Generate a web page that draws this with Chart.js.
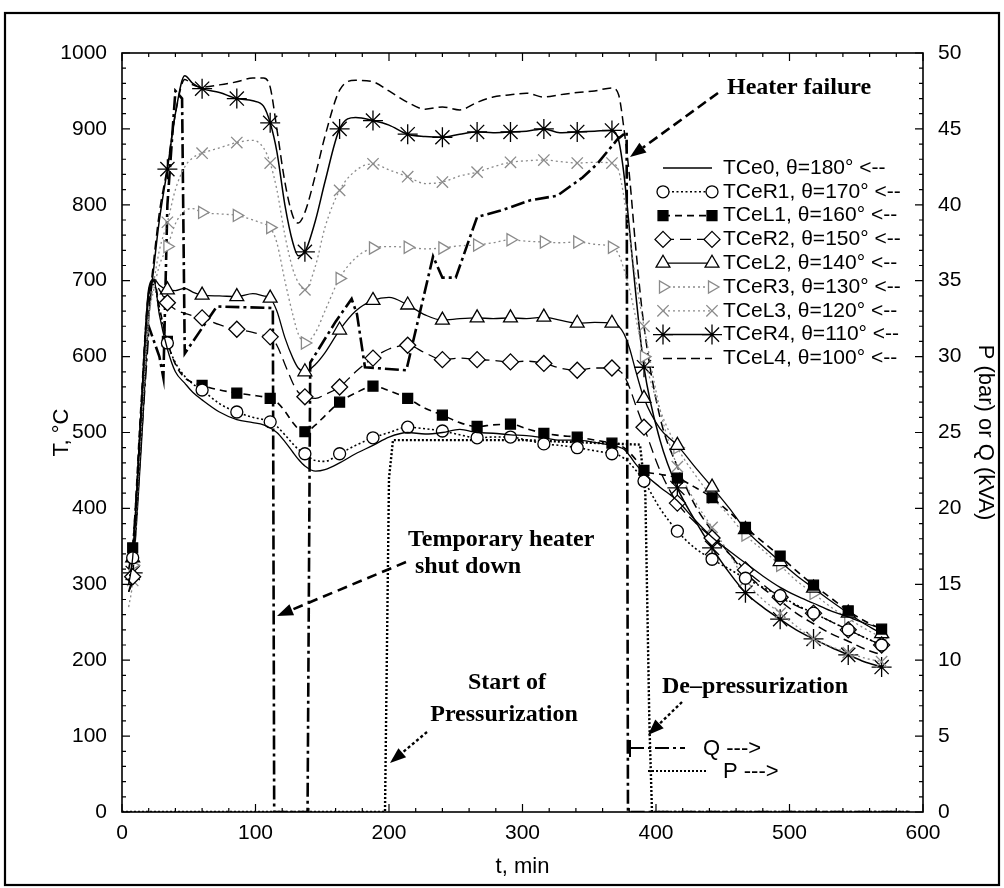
<!DOCTYPE html>
<html><head><meta charset="utf-8">
<script src="https://cdn.jsdelivr.net/npm/chart.js@4.4.1/dist/chart.umd.min.js"></script>
<style>html,body{margin:0;padding:0;background:#fff}canvas{display:block}</style>
</head><body>
<canvas id="c" width="1004" height="888"></canvas>
<script>
// ---- data ----
const times = [5,8,14,20,24,28,34,40,47,53,60,73,86,98,106,111,116,122,128,132,137,145,152,163,175,188,200,214,227,240,253,266,278,291,303,316,328,341,354,367,372,376,380,385,391,403,416,429,442,455,467,480,493,505,518,531,544,556,569];
const TCe0 = [300,335,520,680,700,655,610,580,565,553, 543,527,517,513,510,506,500,488,474,465, 456,449,451,460,472,483,494,500,498,500, 504,500,499,497,496,493,490,490,487,483, 481,478,470,458,446,428,410,385,362,344, 328,311,296,285,275,265,257,249,242];
const TCeR1 = [305,335,520,680,695,660,618,592,574,564, 556,538,527,520,517,514,508,497,485,478, 472,463,462,472,483,493,500,507,505,502, 497,493,494,494,490,485,483,480,476,472, 470,466,460,450,436,400,370,348,333,320, 308,296,285,273,262,251,240,230,220];
const TCeL1 = [320,348,530,685,700,665,620,590,572,566, 562,556,552,549,547,545,540,528,513,505, 501,510,522,540,552,561,555,545,532,523, 513,508,510,511,505,499,496,494,490,486, 484,480,474,464,450,445,440,428,414,395, 375,356,337,318,299,282,265,252,241];
const TCeR2 = [290,310,510,685,700,688,671,662,657,654, 651,642,636,632,628,626,615,590,565,553, 547,545,550,560,580,598,610,615,605,596, 598,596,595,593,594,591,585,582,585,585, 582,575,560,535,507,450,407,382,361,340, 319,300,283,272,262,251,240,230,220];
const TCeL2 = [310,335,520,690,702,694,688,687,690,685, 681,680,679,683,680,677,660,625,598,585, 580,590,605,635,660,674,678,668,655,648, 650,651,650,651,650,652,648,644,645,644, 640,630,612,580,545,505,483,455,428,400, 372,350,330,312,295,278,262,248,235];
const TCeR3 = [300,325,500,650,690,720,745,775,792,795, 790,788,786,780,775,770,750,700,655,630, 618,632,660,703,730,743,745,744,742,743, 746,747,750,754,752,751,750,751,748,744, 735,715,690,650,600,530,480,445,415,390, 365,345,325,305,288,270,255,242,230];
const TCeL3 = [270,305,490,650,700,740,777,820,850,862, 868,875,882,885,875,855,820,760,715,698, 688,720,770,819,845,854,846,837,828,830, 838,843,850,856,858,859,857,855,856,855, 845,810,760,700,640,530,455,410,375,340, 305,280,262,245,228,218,210,203,198];
const TCeR4 = [290,315,470,650,720,780,847,920,970,960, 953,948,940,937,930,908,870,800,750,733, 738,780,830,900,915,911,905,893,890,889, 893,896,895,896,897,900,895,896,897,898, 885,840,770,680,586,490,427,385,348,315, 289,270,254,240,228,217,207,198,191];
const TCeL4 = [300,320,480,660,730,790,850,920,965,958, 955,958,962,967,967,955,900,830,785,776, 790,840,890,951,964,962,950,935,926,929, 925,935,942,945,947,942,945,948,950,954, 945,900,840,740,640,520,455,405,370,340, 315,295,278,262,248,235,225,215,207];
const qTimes = [8,20,28,31,34,40,45,47,71,113,114,139,141,160,172,176,182,213,233,240,250,266,283,306,326,345,356,371,378,379,590];
const qValues = [17,32,30,28.6,40,47.5,47,30.2,33.3,33.2,0,0,29.6,32.3,33.8,32.8,29.3,29.1,36.6,35.2,35.2,39.2,39.6,40.3,40.6,41.8,42.7,44.3,44.8,0,0];
const pTimes = [0,197,200,203,300,388,392,395,397,590];
const pValues = [0,0,22,24.5,24.5,24.2,21,6,0,0];
const seriesNames = ['TCe0','TCeR1','TCeL1','TCeR2','TCeL2','TCeR3','TCeL3','TCeR4','TCeL4'];
const seriesAngles = ['180','170','160','150','140','130','120','110','100'];
const xTicks = [0,100,200,300,400,500,600];
const yTicks = [0,100,200,300,400,500,600,700,800,900,1000];
const y2Ticks = [0,5,10,15,20,25,30,35,40,45,50];

// ---- styles ----
const markerIdx = new Set([1,6,10,12,15,20,23,25,27,29,31,33,35,37,39,44,46,48,50,52,54,56,58]);
const GREY = '#8a8a8a';
const styles = [
  {c:'#000', w:1.3, dash:[], ps:false},
  {c:'#000', w:1.6, dash:[2,2.5], ps:'circle', r:6, fill:'#fff'},
  {c:'#000', w:1.6, dash:[7,5], ps:'rect', r:7, fill:'#000'},
  {c:'#000', w:1.3, dash:[11,6], ps:'rectRot', r:8, fill:'#fff'},
  {c:'#000', w:1.3, dash:[], ps:'triangle', r:8, fill:'#fff'},
  {c:GREY, w:1.3, dash:[2,3], ps:'triangle', r:7, fill:'#fff', rot:90},
  {c:GREY, w:1.3, dash:[2,3], ps:'crossRot', r:8, fill:'#fff'},
  {c:'#000', w:1.5, dash:[], ps:'star', r:10, fill:'#fff'},
  {c:'#000', w:1.5, dash:[9,5], ps:false}
];
const seriesVals = [TCe0,TCeR1,TCeL1,TCeR2,TCeL2,TCeR3,TCeL3,TCeR4,TCeL4];
const FONT = '"Liberation Sans", Arial, sans-serif';
const SERIF = '"Liberation Serif", "Times New Roman", serif';

const datasets = seriesVals.map((vals,k)=>{
  const s = styles[k];
  return {
    label: seriesNames[k],
    data: times.map((t,i)=>({x:t,y:vals[i]})),
    yAxisID:'y',
    borderColor:s.c, borderWidth:s.w, borderDash:s.dash,
    cubicInterpolationMode:'monotone',
    pointStyle: s.ps || 'circle',
    pointRadius: s.ps ? (ctx=>markerIdx.has(ctx.dataIndex)? s.r : 0) : 0,
    pointBorderColor:s.c, pointBackgroundColor:s.fill||'#fff', pointBorderWidth:1.3,
    pointRotation: s.rot||0,
    fill:false
  };
});
datasets.push({label:'Q', data:qTimes.map((t,i)=>({x:t,y:qValues[i]})), yAxisID:'y2', borderColor:'#000', borderWidth:2.6, borderDash:[14,4,3,4], pointRadius:0, tension:0, fill:false});
datasets.push({label:'P', data:pTimes.map((t,i)=>({x:t,y:pValues[i]})), yAxisID:'y2', borderColor:'#000', borderWidth:2.4, borderDash:[2,2], pointRadius:0, tension:0, fill:false});

function drawMarker(ctx, s, x, y){
  if(!s.ps) return;
  const r = s.r;
  ctx.save();
  ctx.setLineDash([]); ctx.strokeStyle=s.c; ctx.fillStyle=s.fill||'#fff'; ctx.lineWidth=1.3;
  ctx.beginPath();
  if(s.ps==='circle'){ ctx.arc(x,y,r,0,Math.PI*2); ctx.fill(); ctx.stroke(); }
  else if(s.ps==='rect'){ const h=r*Math.SQRT1_2; ctx.rect(x-h,y-h,2*h,2*h); ctx.fill(); ctx.stroke(); }
  else if(s.ps==='rectRot'){ ctx.moveTo(x,y-r); ctx.lineTo(x+r,y); ctx.lineTo(x,y+r); ctx.lineTo(x-r,y); ctx.closePath(); ctx.fill(); ctx.stroke(); }
  else if(s.ps==='triangle'){ const a0=(s.rot||0)*Math.PI/180; for(let i=0;i<3;i++){const a=a0-Math.PI/2+i*2*Math.PI/3; const px=x+r*Math.cos(a), py=y+r*Math.sin(a); i?ctx.lineTo(px,py):ctx.moveTo(px,py);} ctx.closePath(); ctx.fill(); ctx.stroke(); }
  else if(s.ps==='crossRot'){ const h=r*Math.SQRT1_2; ctx.moveTo(x-h,y-h); ctx.lineTo(x+h,y+h); ctx.moveTo(x+h,y-h); ctx.lineTo(x-h,y+h); ctx.stroke(); }
  else if(s.ps==='star'){ for(let i=0;i<4;i++){const a=i*Math.PI/4; ctx.moveTo(x-r*Math.cos(a),y-r*Math.sin(a)); ctx.lineTo(x+r*Math.cos(a),y+r*Math.sin(a));} ctx.stroke(); }
  ctx.restore();
}

function arrow(ctx, x1,y1,x2,y2, dash, w){
  ctx.save();
  ctx.strokeStyle='#000'; ctx.fillStyle='#000'; ctx.lineWidth=w; ctx.setLineDash(dash);
  const ang=Math.atan2(y2-y1,x2-x1), L=16, W=6;
  const bx=x2-L*Math.cos(ang), by=y2-L*Math.sin(ang);
  ctx.beginPath(); ctx.moveTo(x1,y1); ctx.lineTo(bx,by); ctx.stroke();
  ctx.setLineDash([]);
  ctx.beginPath(); ctx.moveTo(x2,y2);
  ctx.lineTo(bx+W*Math.sin(ang), by-W*Math.cos(ang));
  ctx.lineTo(bx-W*Math.sin(ang), by+W*Math.cos(ang));
  ctx.closePath(); ctx.fill();
  ctx.restore();
}

const decor = {
  id:'decor',
  afterDraw(chart){
    const {ctx, chartArea:a, scales:{x,y,y2}} = chart;
    ctx.save();
    // plot frame + inward ticks
    ctx.strokeStyle='#000'; ctx.lineWidth=1.6; ctx.setLineDash([]);
    ctx.strokeRect(a.left, a.top, a.right-a.left, a.bottom-a.top);
    ctx.lineWidth=1.2; ctx.beginPath();
    for(let v=0; v<=600; v+=20){ const px=x.getPixelForValue(v), L=v%100===0?8:4;
      ctx.moveTo(px,a.bottom); ctx.lineTo(px,a.bottom-L); ctx.moveTo(px,a.top); ctx.lineTo(px,a.top+L); }
    for(let v=0; v<=1000; v+=20){ const py=y.getPixelForValue(v), L=v%100===0?8:4;
      ctx.moveTo(a.left,py); ctx.lineTo(a.left+L,py); }
    for(let v=0; v<=50; v+=1){ const py=y2.getPixelForValue(v), L=v%5===0?8:4;
      ctx.moveTo(a.right,py); ctx.lineTo(a.right-L,py); }
    ctx.stroke();
    // outer figure frame
    ctx.lineWidth=2.2; ctx.strokeRect(5,13,994,872);

    // legend of the temperature series
    ctx.font='21px '+FONT; ctx.fillStyle='#000'; ctx.textBaseline='middle'; ctx.textAlign='left';
    for(let k=0;k<seriesNames.length;k++){
      const s=styles[k], ry=168+k*23.8;
      ctx.save(); ctx.strokeStyle=s.c; ctx.lineWidth=s.w; ctx.setLineDash(s.dash);
      ctx.beginPath(); ctx.moveTo(663,ry); ctx.lineTo(712,ry); ctx.stroke(); ctx.restore();
      drawMarker(ctx,s,663,ry); drawMarker(ctx,s,712,ry);
      ctx.fillStyle='#000';
      ctx.fillText(seriesNames[k]+', \u03b8='+seriesAngles[k]+'\u00b0 <--', 723, ry);
    }
    // Q / P legend samples
    ctx.save(); ctx.strokeStyle='#000';
    ctx.lineWidth=2; ctx.beginPath(); ctx.moveTo(630,740); ctx.lineTo(630,757); ctx.stroke();
    ctx.lineWidth=2.2; ctx.setLineDash([14,4,3,4]); ctx.beginPath(); ctx.moveTo(630,748); ctx.lineTo(685,748); ctx.stroke();
    ctx.setLineDash([2,2]); ctx.beginPath(); ctx.moveTo(648,771); ctx.lineTo(707,771); ctx.stroke();
    ctx.restore();
    ctx.font='22px '+FONT; ctx.fillStyle='#000';
    ctx.fillText('Q --->', 703, 749); ctx.fillText('P --->', 723, 772);

    // annotations
    ctx.font='bold 24px '+SERIF; ctx.textBaseline='middle';
    ctx.textAlign='left';
    ctx.fillText('Heater failure', 727, 88);
    ctx.fillText('Temporary heater', 408, 540);
    ctx.fillText('shut down', 415, 567);
    ctx.textAlign='center';
    ctx.fillText('Start of', 507, 683);
    ctx.fillText('Pressurization', 504, 715);
    ctx.fillText('De\u2013pressurization', 755, 687);
    arrow(ctx, 718,93, 630,157, [10,5], 2.6);
    arrow(ctx, 406,562, 277,616, [10,6], 2.6);
    arrow(ctx, 427,732, 390,763, [3,2.5], 2.4);
    arrow(ctx, 682,702, 648,735, [3,2.5], 2.4);
    ctx.restore();
  }
};

Chart.defaults.font.family = FONT;
Chart.defaults.color = '#000';
const plain = v => String(v);
new Chart(document.getElementById('c'), {
  type:'line',
  data:{datasets},
  options:{
    responsive:false, animation:false, devicePixelRatio:1,
    layout:{padding:{top:53,left:0,right:0,bottom:0}},
    plugins:{legend:{display:false}, tooltip:{enabled:false}},
    scales:{
      x:{type:'linear', position:'bottom', min:0, max:600,
         afterBuildTicks(s){ s.ticks = xTicks.map(v=>({value:v})); },
         ticks:{font:{size:21}, color:'#000', padding:9, maxRotation:0, callback:plain},
         grid:{display:false, drawTicks:false}, border:{display:false},
         title:{display:true, text:'t, min', font:{size:22}, color:'#000', padding:{top:0,bottom:8}},
         afterFit(s){ s.height=76; }},
      y:{type:'linear', position:'left', min:0, max:1000,
         afterBuildTicks(s){ s.ticks = yTicks.map(v=>({value:v})); },
         ticks:{font:{size:21}, color:'#000', padding:15, callback:plain},
         grid:{display:false, drawTicks:false}, border:{display:false},
         title:{display:true, text:'T, \u00b0C', font:{size:22}, color:'#000', padding:{top:49,bottom:0}},
         afterFit(s){ s.width=122; }},
      y2:{type:'linear', position:'right', min:0, max:50,
         afterBuildTicks(s){ s.ticks = y2Ticks.map(v=>({value:v})); },
         ticks:{font:{size:21}, color:'#000', padding:15, callback:plain},
         grid:{display:false, drawTicks:false}, border:{display:false},
         title:{display:true, text:'P (bar) or Q (kVA)', font:{size:22}, color:'#000', padding:{top:6,bottom:0}},
         afterFit(s){ s.width=81; }}
    }
  },
  plugins:[decor]
});
</script>
</body></html>
